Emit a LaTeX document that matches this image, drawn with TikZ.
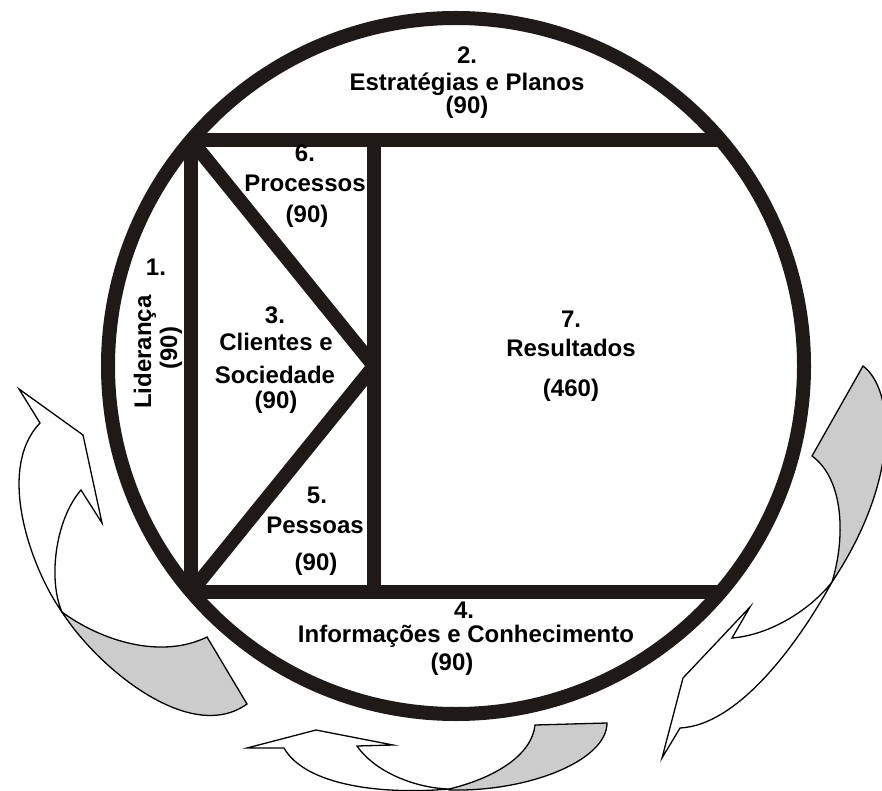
\documentclass[tikz,border=0pt]{standalone}
\usepackage{fontspec}
\setmainfont{Liberation Sans}
\definecolor{framecol}{RGB}{31,26,23}
\definecolor{backgray}{RGB}{204,204,204}
\newcommand{\lblfont}{\fontsize{24}{28}\selectfont\bfseries}
\tikzset{
  frame/.style={draw=framecol, line width=14pt},
  lbl/.style={font=\lblfont, anchor=base, inner sep=0pt},
  vlbl/.style={font=\lblfont, rotate=90, inner sep=0pt},
  turnfront/.style={draw=black, line width=1.3pt, fill=white},
  turnback/.style={draw=black, line width=1.3pt, fill=backgray}
}

\begin{document}
\begin{tikzpicture}[x=1pt, y=-1pt]
\useasboundingbox (0,0) rectangle (882,791);

% circular arrows round the frame
\begin{scope}
\clip (0,0) rectangle (882,791);
\filldraw[turnfront] (19,389) -- (83,435) -- (102,523) -- (81,490)
  .. controls (55,520) and (48,580) .. (62,612)
  .. controls (32,570) and (-5,470) .. (40,423) -- cycle;
\filldraw[turnback] (62,612) .. controls (100,640) and (160,660) .. (207,637)
  -- (247,704) .. controls (190,745) and (97,667) .. (62,612) -- cycle;

\filldraw[turnback] (812,456) -- (863,366)
  .. controls (895,390) and (900,480) .. (832,582)
  .. controls (845,540) and (845,480) .. (812,456) -- cycle;
\filldraw[turnfront] (832,582) .. controls (800,640) and (740,725) .. (680,728)
  -- (662,758) -- (683,678) -- (750,607) -- (732,638)
  .. controls (770,635) and (810,610) .. (832,582) -- cycle;

\filldraw[turnfront] (247,748) -- (316,730) -- (393,745) -- (357,746)
  .. controls (375,772) and (415,788) .. (449,789)
  .. controls (380,795) and (305,785) .. (284,748) -- cycle;
\filldraw[turnback] (449,789) .. controls (495,778) and (532,755) .. (535,725)
  -- (607,723) .. controls (607,760) and (530,792) .. (449,790) -- cycle;
\end{scope}

% frame
\coordinate (c) at (456,366);
\coordinate (tl) at (191,140);
\coordinate (tr) at (721,140);
\coordinate (bl) at (191,592);
\coordinate (br) at (721,592);
\coordinate (mt) at (374,140);
\coordinate (mb) at (374,592);
\coordinate (apex) at (374,366);
\draw[frame] (c) circle[radius=348pt];
\draw[frame] (tl) -- (tr);
\draw[frame] (bl) -- (br);
\draw[frame] (tl) -- (bl);
\draw[frame] (mt) -- (mb);
\draw[frame] (tl) -- (apex);
\draw[frame] (bl) -- (apex);

% criteria
\node[lbl] (n2) at (467,64) {2.};
\node[lbl] (t2) at (467,91) {Estratégias e Planos};
\node[lbl] (p2) at (467,114) {(90)};

\node[lbl] (n6) at (305,162) {6.};
\node[lbl] (t6) at (305,192) {Processos};
\node[lbl] (p6) at (307,223) {(90)};

\node[lbl] (n1) at (156,276) {1.};
\node[vlbl] (t1) at (145,352) {Liderança};
\node[vlbl] (p1) at (171,348) {(90)};

\node[lbl] (n3) at (275,323) {3.};
\node[lbl] (t3a) at (276,350) {Clientes e};
\node[lbl] (t3b) at (275,383) {Sociedade};
\node[lbl] (p3) at (276,408) {(90)};

\node[lbl] (n5) at (317,503) {5.};
\node[lbl] (t5) at (315,533) {Pessoas};
\node[lbl] (p5) at (316,570) {(90)};

\node[lbl] (n7) at (571,327) {7.};
\node[lbl] (t7) at (571,356) {Resultados};
\node[lbl] (p7) at (571,396) {(460)};

\node[lbl] (n4) at (464,618) {4.};
\node[lbl] (t4) at (466,642) {Informações e Conhecimento};
\node[lbl] (p4) at (452,670) {(90)};
\end{tikzpicture}
\end{document}
